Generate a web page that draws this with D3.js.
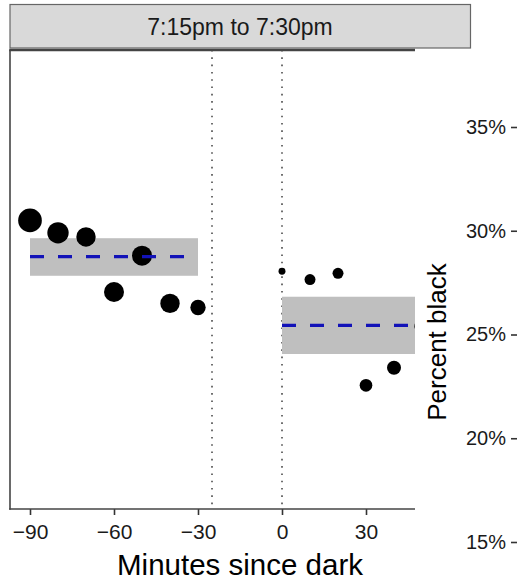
<!DOCTYPE html>
<html>
<head>
<meta charset="utf-8">
<script src="https://cdn.jsdelivr.net/npm/d3@7"></script>
<style>
  html, body { margin: 0; padding: 0; background: #fff; }
  svg { display: block; font-family: "Liberation Sans", Arial, Helvetica, sans-serif; }
</style>
</head>
<body>
<svg id="chart" width="520" height="582"></svg>
<script>
// ---- data ----
const stripLabel = "7:15pm to 7:30pm";
const xTitle = "Minutes since dark";
const yTitle = "Percent black";
const minutes  = [-90, -80, -70, -60, -50, -40, -30, 0, 10, 20, 30, 40, 50];
const pctBlack = [30.5, 29.9, 29.7, 27.05, 28.8, 26.5, 26.3, 28.05, 27.65, 27.95, 22.55, 23.4, 25.4];
const counts   = [140, 114, 94, 100, 100, 94, 59, 12, 30, 30, 40, 49, 57];
const bandStart = [-90, 0];
const bandEnd   = [-30, 50];
const bandLow   = [27.83, 24.06];
const bandHigh  = [29.64, 26.82];
const bandMean  = [28.75, 25.44];
const refLines  = [-25, 0];
const xTicks = [-90, -60, -30, 0, 30];
const yTicks = [15, 20, 25, 30, 35];

// ---- layout ----
const svg = d3.select("#chart");
const panel = {left: 10, right: 415, top: 50, bottom: 509};
const x = d3.scaleLinear().domain([-90, 0]).range([30, 282]);
const y = d3.scaleLinear().domain([15, 35]).range([542, 127]);
const r = d3.scaleSqrt().domain([0, 144]).range([0, 12]);

svg.append("defs").append("clipPath").attr("id", "clip")
  .append("rect")
  .attr("x", panel.left).attr("y", panel.top)
  .attr("width", panel.right - panel.left).attr("height", panel.bottom - panel.top);

const g = svg.append("g").attr("clip-path", "url(#clip)");

// reference lines
g.selectAll("line.ref").data(refLines).join("line")
  .attr("class", "ref")
  .attr("x1", d => x(d)).attr("x2", d => x(d))
  .attr("y1", panel.top).attr("y2", panel.bottom)
  .attr("stroke", "#333").attr("stroke-width", 1.4)
  .attr("stroke-dasharray", "1.6,5.7");

const bands = bandStart.map((s, i) => ({s, e: bandEnd[i], lo: bandLow[i], hi: bandHigh[i], m: bandMean[i]}));

g.selectAll("rect.band").data(bands).join("rect")
  .attr("class", "band")
  .attr("x", d => x(d.s)).attr("width", d => x(d.e) - x(d.s))
  .attr("y", d => y(d.hi)).attr("height", d => y(d.lo) - y(d.hi))
  .attr("fill", "#bfbfbf");

const pts = minutes.map((m, i) => ({m, v: pctBlack[i], n: counts[i]}));
g.selectAll("circle").data(pts).join("circle")
  .attr("cx", d => x(d.m)).attr("cy", d => y(d.v)).attr("r", d => r(d.n))
  .attr("fill", "#000");

g.selectAll("line.mean").data(bands).join("line")
  .attr("class", "mean")
  .attr("x1", d => x(d.s)).attr("x2", d => x(d.e))
  .attr("y1", d => y(d.m)).attr("y2", d => y(d.m))
  .attr("stroke", "#1212b8").attr("stroke-width", 3.2)
  .attr("stroke-dasharray", "14,14");

// panel left border
svg.append("line").attr("x1", panel.left).attr("x2", panel.left)
  .attr("y1", panel.top).attr("y2", panel.bottom + 0.8)
  .attr("stroke", "#444").attr("stroke-width", 1.6);

// strip
svg.append("rect").attr("x", 10).attr("y", 4.5).attr("width", 460.5).attr("height", 43.5)
  .attr("fill", "#d9d9d9").attr("stroke", "#666").attr("stroke-width", 1.2);
svg.append("line").attr("x1", 9.2).attr("x2", 415).attr("y1", 50).attr("y2", 50)
  .attr("stroke", "#444").attr("stroke-width", 2.6);
svg.append("text").attr("x", 240).attr("y", 35)
  .attr("text-anchor", "middle").attr("font-size", 23).attr("fill", "#1a1a1a")
  .text(stripLabel);

// x axis
const xAxis = d3.axisBottom(x).tickValues(xTicks).tickSize(6).tickPadding(4)
  .tickFormat(d => d < 0 ? "\u2212" + Math.abs(d) : d);
const xa = svg.append("g").attr("transform", `translate(0,${panel.bottom})`).call(xAxis);
xa.select(".domain").remove();
xa.selectAll(".tick line").attr("stroke", "#333").attr("stroke-width", 1.6);
xa.selectAll(".tick text").attr("font-size", 21).attr("fill", "#1a1a1a")
  .attr("font-family", "Liberation Sans, Arial, sans-serif").attr("dy", "0.95em");
svg.append("line").attr("x1", panel.left - 0.8).attr("x2", panel.right)
  .attr("y1", panel.bottom).attr("y2", panel.bottom)
  .attr("stroke", "#444").attr("stroke-width", 1.6);

svg.append("text").attr("x", 240).attr("y", 575)
  .attr("text-anchor", "middle").attr("font-size", 29.5).attr("fill", "#000")
  .text(xTitle);

// y axis (right side)
const yAxis = d3.axisLeft(y).tickValues(yTicks).tickSize(6).tickPadding(5)
  .tickFormat(d => d + "%");
const ya = svg.append("g").attr("transform", "translate(517,0)").call(yAxis);
ya.select(".domain").remove();
ya.selectAll(".tick line").attr("stroke", "#333").attr("stroke-width", 1.6);
ya.selectAll(".tick text").attr("font-size", 20).attr("fill", "#1a1a1a")
  .attr("font-family", "Liberation Sans, Arial, sans-serif");

svg.append("text")
  .attr("transform", "translate(446,342) rotate(-90)")
  .attr("text-anchor", "middle").attr("font-size", 26).attr("fill", "#000")
  .text(yTitle);
</script>
</body>
</html>
